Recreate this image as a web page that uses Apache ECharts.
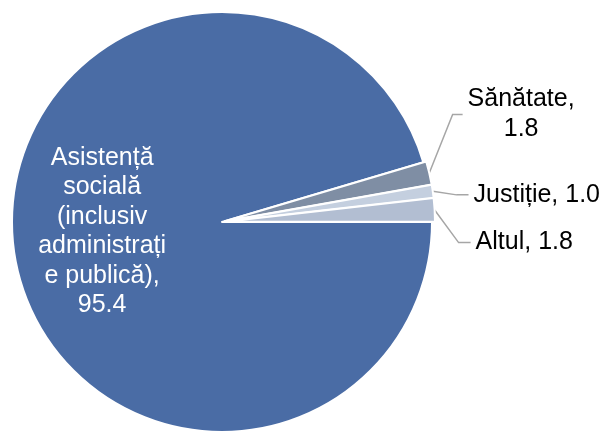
<!DOCTYPE html>
<html>
<head>
<meta charset="utf-8">
<script src="https://cdn.jsdelivr.net/npm/echarts@6/dist/echarts.min.js"></script>
<style>
  html, body { margin: 0; padding: 0; background: #fff; }
  #main { width: 609px; height: 431px; }
</style>
</head>
<body>
<div id="main"></div>
<script>
// categorii si valori (%)
const categories = ['Asistență socială (inclusiv administrație publică)', 'Sănătate', 'Justiție', 'Altul'];
const values = [95.4, 1.8, 1.0, 1.8];
const colors = ['#4A6CA5', '#7F8EA4', '#C4CFDF', '#B2BED2'];
// textul etichetelor, rupt pe randuri ca in original
const labelLines = [
  ['Asistență', 'socială', '(inclusiv', 'administrați', 'e publică),'],
  ['Sănătate,'],
  ['Justiție,'],
  ['Altul,']
];
// deplasari ale etichetelor [dx, dy]
const labelShift = [[-13, -6], [-2, -53], [0, 7], [0, 34]];

const chart = echarts.init(document.getElementById('main'), null, { renderer: 'canvas' });

const data = categories.map((name, i) => {
  const item = {
    name: name,
    value: values[i],
    selected: i > 0,
    itemStyle: { color: colors[i] }
  };
  if (i === 0) {
    item.label = {
      position: 'inside',
      color: '#fff',
      align: 'center',
      lineHeight: 29.5
    };
  }
  return item;
});

const option = {
  animation: false,
  series: [
    {
      type: 'pie',
      center: [222, 222],
      radius: 210,
      startAngle: 0,
      clockwise: true,
      selectedMode: 'multiple',
      selectedOffset: 3,
      avoidLabelOverlap: false,
      itemStyle: { borderColor: '#fff', borderWidth: 2 },
      emphasis: { disabled: true },
      label: {
        show: true,
        position: 'outside',
        formatter: function (p) {
          const lines = labelLines[p.dataIndex];
          const v = p.value.toFixed(1);
          if (p.dataIndex === 0 || p.dataIndex === 1) {
            return lines.concat([v]).join('\n');
          }
          return lines[0] + ' ' + v;
        },
        fontFamily: 'Liberation Sans, Arial, sans-serif',
        fontSize: 25,
        color: '#000',
        lineHeight: 30
      },
      labelLine: {
        show: true,
        length: 24,
        length2: 12,
        lineStyle: { color: '#A6A6A6', width: 1.5 }
      },
      labelLayout: function (p) {
        const s = labelShift[p.dataIndex];
        const out = { dx: s[0], dy: s[1] };
        if (p.dataIndex === 1) {
          out.dx = s[0] + p.labelRect.width / 2;
          out.align = 'center';
        }
        const pts = p.labelLinePoints;
        if (pts && pts.length === 3) {
          // linia de legatura urmeaza eticheta mutata
          out.labelLinePoints = [
            pts[0],
            [pts[1][0], pts[1][1] + s[1]],
            [pts[2][0] + s[0], pts[2][1] + s[1]]
          ];
        }
        return out;
      },
      data: data
    }
  ]
};

chart.setOption(option);
</script>
</body>
</html>
